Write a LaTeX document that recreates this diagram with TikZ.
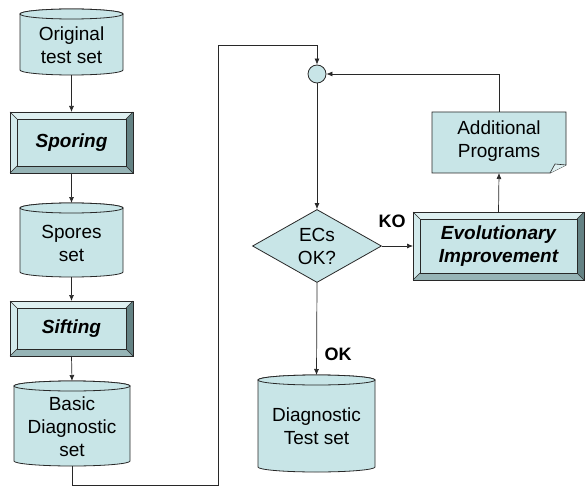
\documentclass[tikz,border=0pt]{standalone}
\usepackage{fontspec}
\setmainfont{Liberation Sans}
\usetikzlibrary{shapes.geometric,arrows.meta}
\definecolor{tealfill}{RGB}{200,229,231}
\definecolor{bvtop}{RGB}{222,240,241}
\definecolor{bvleft}{RGB}{210,234,236}
\definecolor{bvright}{RGB}{100,130,132}
\definecolor{bvbot}{RGB}{150,180,182}
\definecolor{edge}{RGB}{40,40,40}
\newcommand\cylshape[6]{%
  \filldraw[cylbody] (#2,{#3+5}) -- (#2,{#5-5}) arc[start angle=180,end angle=0,x radius={(#4-#2)/2},y radius=5]
    -- (#4,{#3+5}) arc[start angle=0,end angle=-180,x radius={(#4-#2)/2},y radius=5] -- cycle;
  \draw[cylbody] ({(#2+#4)/2},{#3+5}) ellipse[x radius={(#4-#2)/2},y radius=5];
  \node[boxnode,minimum width={#4-#2},minimum height={#5-#3}] (#1) at ({(#2+#4)/2},{(#3+#5)/2}) {};
  \node[txt] at ({(#2+#4)/2},{(#3+#5)/2+3}) {#6};
}
\newcommand\bevelbox[6]{%
  \fill[bvtop] (#2,#3) -- (#4,#3) -- ({#4-7},{#3+7}) -- ({#2+7},{#3+7}) -- cycle;
  \fill[bvleft] (#2,#3) -- ({#2+7},{#3+7}) -- ({#2+7},{#5-7}) -- (#2,#5) -- cycle;
  \fill[bvright] (#4,#3) -- (#4,#5) -- ({#4-7},{#5-7}) -- ({#4-7},{#3+7}) -- cycle;
  \fill[bvbot] (#2,#5) -- (#4,#5) -- ({#4-7},{#5-7}) -- ({#2+7},{#5-7}) -- cycle;
  \draw[edge,line width=0.5pt] (#2,#3) -- ({#2+7},{#3+7}) (#4,#3) -- ({#4-7},{#3+7})
    (#2,#5) -- ({#2+7},{#5-7}) (#4,#5) -- ({#4-7},{#5-7});
  \filldraw[fill=tealfill,draw=edge,line width=0.6pt] ({#2+7},{#3+7}) rectangle ({#4-7},{#5-7});
  \draw[edge,line width=0.8pt] (#2,#3) rectangle (#4,#5);
  \node[boxnode,minimum width={#4-#2},minimum height={#5-#3}] (#1) at ({(#2+#4)/2},{(#3+#5)/2}) {};
  \node[txt,font=\fontsize{19}{23}\selectfont\bfseries\itshape] at ({(#2+#4)/2},{(#3+#5)/2}) {#6};
}
\begin{document}
\begin{tikzpicture}[x=1pt,y=-1pt,
  cylbody/.style={fill=tealfill,draw=edge,line width=0.8pt},
  boxnode/.style={draw=none,fill=none,inner sep=0pt,outer sep=0pt},
  txt/.style={align=center,inner sep=0pt,font=\fontsize{19}{23}\selectfont},
  conn/.style={draw=edge,line width=0.7pt},
  arr/.style={conn,-{Latex[length=6pt,width=5pt]}},
  lbl/.style={font=\fontsize{18}{22}\selectfont\bfseries,inner sep=0pt}]
\useasboundingbox (0,0) rectangle (585,486);
\fill[white] (0,0) rectangle (585,486);

\cylshape{orig}{20}{9}{123}{75}{Original\\test set}
\bevelbox{sporing}{10}{112}{133}{173}{Sporing}
\cylshape{spores}{20}{203}{123}{277}{Spores\\set}
\bevelbox{sifting}{10}{301}{133}{356}{Sifting}
\cylshape{basic}{14}{381}{130}{466}{Basic\\Diagnostic\\set}
\cylshape{diag}{258}{375}{375}{472}{Diagnostic\\Test set}
\bevelbox{evo}{413}{212}{584}{280}{Evolutionary\\Improvement}

% Additional Programs (document shape)
\filldraw[cylbody] (432,112) -- (566,112) -- (566,165) -- (550,173) -- (432,173) -- cycle;
\filldraw[fill=bvtop,draw=edge,line width=0.6pt] (550,173) -- (555,164) -- (566,165);
\node[boxnode,minimum width=134,minimum height=61] (add) at (499,142.5) {};
\node[txt] at (499,141) {Additional\\Programs};

% junction circle
\node[circle,fill=tealfill,draw=edge,line width=0.8pt,minimum size=18pt,inner sep=0pt] (circ) at (317,74) {};

% decision
\node[diamond,fill=tealfill,draw=edge,line width=0.8pt,minimum width=129pt,minimum height=73pt,
  aspect=1.77,inner sep=0pt,align=center,font=\fontsize{19}{23}\selectfont] (dia) at (317,246) {ECs\\OK?};

\coordinate (c1) at (218,485);
\coordinate (c2) at (218,45);

\draw[arr] (orig.south) -- (sporing.north);
\draw[arr] (sporing.south) -- (spores.north);
\draw[arr] (spores.south) -- (sifting.north);
\draw[arr] (sifting.south) -- (basic.north);
\draw[arr] (basic.south) |- (c1) -- (c2) -| (circ.north);
\draw[arr] (circ.south) -- (dia.north);
\draw[arr] (dia.east) -- (evo.west);
\draw[arr] (evo.north) -- (add.south);
\draw[arr] (add.north) |- (circ.east);
\draw[arr] (dia.south) -- (diag.north);

\node[lbl] (ko) at (392,221) {KO};
\node[lbl] (ok) at (338,354) {OK};
\end{tikzpicture}
\end{document}
